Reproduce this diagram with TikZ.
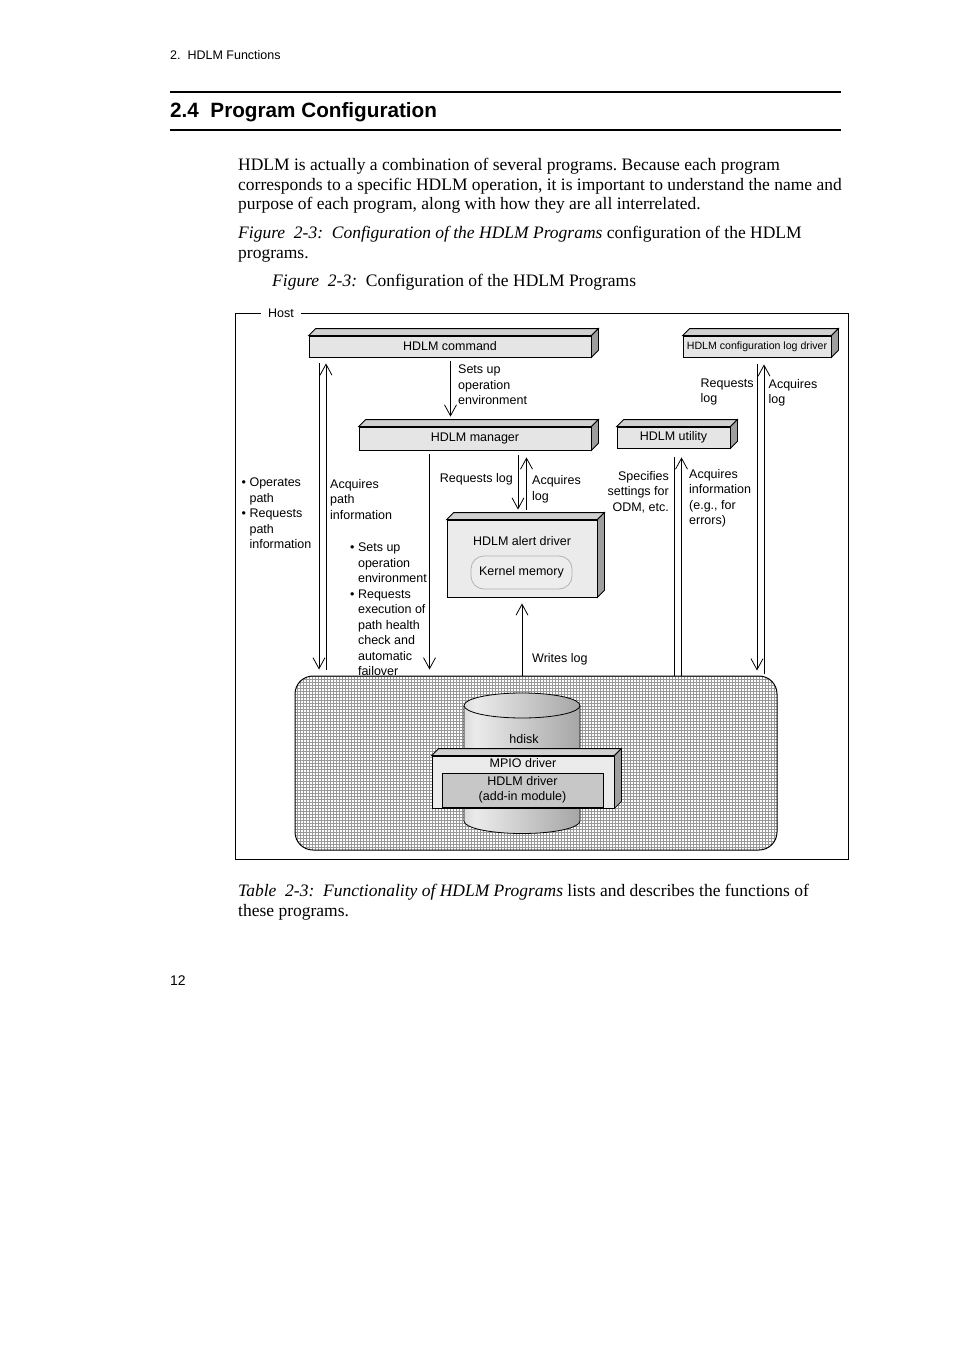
\documentclass[tikz,border=0pt]{standalone}
\usepackage{fontspec}
\setmainfont{Liberation Serif}
\setsansfont{Liberation Sans}
\usetikzlibrary{arrows.meta,patterns}
\frenchspacing
\pgfdeclarehorizontalshading{cylsh}{100bp}{color(0bp)=(black!42); color(30bp)=(black!8); color(100bp)=(black!50)}
\newcommand\threedfaces[2]{%
  \filldraw[topface] (#1.north west) -- ++(#2,-#2) -- ([shift={(#2,-#2)}]#1.north east) -- (#1.north east) -- cycle;
  \filldraw[sideface] (#1.north east) -- ([shift={(#2,-#2)}]#1.north east) -- ([shift={(#2,-#2)}]#1.south east) -- (#1.south east) -- cycle;}
\begin{document}
\begin{tikzpicture}[x=1pt,y=-1pt,
  every node/.style={inner sep=0pt},
  sf/.style={font=\sffamily\fontsize{12.5}{15.5}\selectfont},
  lbl/.style={sf, align=left, anchor=north west},
  lblr/.style={sf, align=right, anchor=north east},
  front/.style={draw=black, line width=0.8pt, fill=black!10, sf},
  topface/.style={draw=black, line width=0.8pt, fill=black!18},
  sideface/.style={draw=black, line width=0.8pt, fill=black!38},
  arr/.style={line width=0.8pt, -{Straight Barb[length=11pt,width=12pt]}},
  ln/.style={line width=0.8pt},
  body/.style={font=\fontsize{17.5}{19.5}\selectfont, anchor=base west},
]
\useasboundingbox (0,0) rectangle (954,1351);
\fill[white] (0,0) rectangle (954,1351);

% ---- page text ----
\node[anchor=base west, font=\sffamily\fontsize{12.5}{14}\selectfont] (hdr) at (170,59.5) {2.\ \ HDLM Functions};
\draw[line width=2pt] (170,92) -- (841,92);
\node[anchor=base west, font=\sffamily\bfseries\fontsize{20.7}{24}\selectfont] (ttl) at (170,118) {2.4\ \ Program Configuration};
\draw[line width=2pt] (170,130) -- (841,130);

\node[body] (p1) at (238,170.5) {HDLM is actually a combination of several programs. Because each program};
\node[body] (p2) at (238,190) {corresponds to a specific HDLM operation, it is important to understand the name and};
\node[body] (p3) at (238,209.5) {purpose of each program, along with how they are all interrelated.};
\node[body] (p4) at (238,238.5) {\textit{Figure\ \ 2-3:\ \ Configuration of the HDLM Programs} configuration of the HDLM};
\node[body] (p5) at (238,258) {programs.};
\node[body] (cap) at (272,286.5) {\textit{Figure\ \ 2-3:}\ \ Configuration of the HDLM Programs};
\node[body] (t1) at (238,896.5) {\textit{Table\ \ 2-3:\ \ Functionality of HDLM Programs} lists and describes the functions of};
\node[body] (t2) at (238,916) {these programs.};
\node[anchor=base west, font=\sffamily\fontsize{14}{16}\selectfont] (pg) at (170,985) {12};

% ---- host frame ----
\draw[line width=0.8pt] (235,313) rectangle (848,859);
\node[sf, fill=white, inner xsep=7pt, inner ysep=2pt] (host) at (281,313) {Host};

% ---- bottom region ----
\node[draw=black, line width=1pt, rounded corners=18pt, minimum width=482pt, minimum height=174pt,
      preaction={fill=white}, pattern=grid, pattern color=black!40] (region) at (536,763) {};

% cylinder
\shade[shading=cylsh] (464,705.5) -- (464,821) arc[start angle=180, end angle=0, x radius=58, y radius=12.5] -- (580,705.5) -- cycle;
\draw[line width=0.8pt] (464,705.5) -- (464,821) arc[start angle=180, end angle=0, x radius=58, y radius=12.5] -- (580,705.5);
\shade[shading=cylsh, draw=black, line width=0.8pt] (522,705.5) ellipse[x radius=58, y radius=12.5];
\node[sf, anchor=north] (hdisk) at (524,734) {hdisk};

% MPIO driver
\node[front, fill=black!8, minimum width=182pt, minimum height=52pt] (mpio) at (523,782) {};
\threedfaces{mpio}{7}
\node[sf, anchor=north] (mpiolbl) at (523,758) {MPIO driver};
\node[draw=black, line width=0.8pt, fill=black!22, minimum width=161pt, minimum height=34pt, sf, align=center] (hdrv) at (522.5,790) {HDLM driver\\(add-in module)};

% ---- program boxes ----
\node[front, minimum width=282pt, minimum height=21pt] (cmd) at (450,346.5) {HDLM command};
\threedfaces{cmd}{7}
\node[front, minimum width=148pt, minimum height=21pt, font=\sffamily\fontsize{10.6}{12}\selectfont] (cfg) at (757,346.5) {HDLM configuration log driver};
\threedfaces{cfg}{7}
\node[front, minimum width=232pt, minimum height=23pt] (mgr) at (475,438.5) {HDLM manager};
\threedfaces{mgr}{7}
\node[front, minimum width=113pt, minimum height=21pt] (util) at (673.5,437.5) {HDLM utility};
\threedfaces{util}{7}
\node[front, fill=black!8, minimum width=150pt, minimum height=77pt] (alert) at (522,558.5) {};
\threedfaces{alert}{7}
\node[sf, anchor=north] (alertlbl) at (522,536) {HDLM alert driver};
\node[draw=black!30, line width=0.8pt, fill=black!7, rounded corners=13pt, minimum width=101pt, minimum height=33pt, sf] (kmem) at (521.5,572.5) {Kernel memory};

% ---- connectors ----
\coordinate (cA) at (319,0);
\coordinate (cB) at (326,0);
\coordinate (cC) at (450.5,0);
\coordinate (cD) at (429.5,0);
\coordinate (cE) at (518,0);
\coordinate (cF) at (526.5,0);
\coordinate (cG) at (522,0);
\coordinate (cH) at (674,0);
\coordinate (cI) at (681.5,0);
\coordinate (cJ) at (757,0);
\coordinate (cK) at (764,0);

\draw[arr] ([yshift=-6pt]cA |- cmd.south) -- ([yshift=6pt]cA |- region.north);
\draw[arr] ([yshift=6pt]cB |- region.north) -- ([yshift=-6pt]cB |- cmd.south);
\draw[arr] ([yshift=-4pt]cC |- cmd.south) -- ([yshift=10pt]cC |- mgr.north);
\draw[arr] ([yshift=-4pt]cD |- mgr.south) -- ([yshift=6pt]cD |- region.north);
\draw[arr] ([yshift=-5pt]cE |- mgr.south) -- ([yshift=10pt]cE |- alert.north);
\draw[arr] ([yshift=10pt]cF |- alert.north) -- ([yshift=-7pt]cF |- mgr.south);
\draw[arr] (cG |- region.north) -- ([yshift=-6pt]cG |- alert.south);
\draw[ln] ([yshift=-9pt]cH |- util.south) -- (cH |- region.north);
\draw[arr] (cI |- region.north) -- ([yshift=-9pt]cI |- util.south);
\draw[arr] ([yshift=-7pt]cJ |- cfg.south) -- ([yshift=5pt]cJ |- region.north);
\draw[arr] ([yshift=2pt]cK |- region.north) -- ([yshift=-7pt]cK |- cfg.south);

% ---- connector labels ----
\node[lbl] (l1) at (241.5,478) {\textbullet\ Operates\\\phantom{\textbullet\ }path\\\textbullet\ Requests\\\phantom{\textbullet\ }path\\\phantom{\textbullet\ }information};
\node[lbl] (l2) at (330,479) {Acquires\\path\\information};
\node[lbl] (l3) at (350,543) {\textbullet\ Sets up\\\phantom{\textbullet\ }operation\\\phantom{\textbullet\ }environment\\\textbullet\ Requests\\\phantom{\textbullet\ }execution of\\\phantom{\textbullet\ }path health\\\phantom{\textbullet\ }check and\\\phantom{\textbullet\ }automatic\\\phantom{\textbullet\ }failover};
\node[lbl] (l4) at (458,365) {Sets up\\operation\\environment};
\node[lblr] (l5) at (513,473.5) {Requests log};
\node[lbl] (l6) at (532,475.5) {Acquires\\log};
\node[lblr] (l7) at (669,471) {Specifies\\settings for\\ODM, etc.};
\node[lbl] (l8) at (689,469) {Acquires\\information\\(e.g., for\\errors)};
\node[lbl] (l9) at (700.5,378.5) {Requests\\log};
\node[lbl] (l10) at (768.5,379) {Acquires\\log};
\node[lbl] (l11) at (532,653) {Writes log};
\end{tikzpicture}
\end{document}
